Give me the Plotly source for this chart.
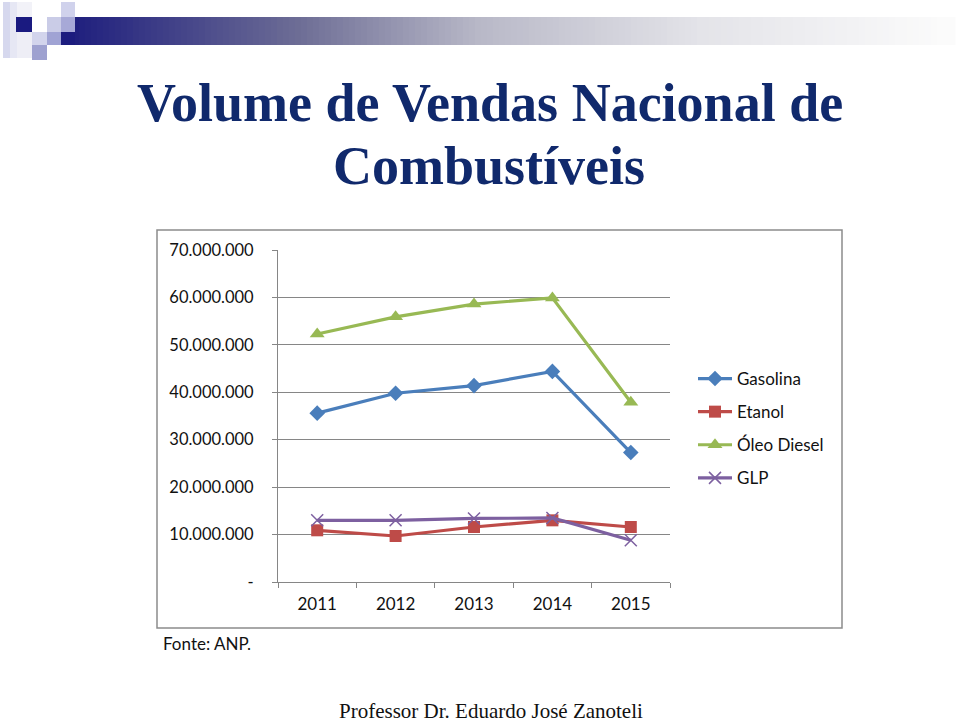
import plotly.graph_objects as go

# ---- data ----
years = ["2011", "2012", "2013", "2014", "2015"]
gasolina = [35.6e6, 39.8e6, 41.4e6, 44.4e6, 27.3e6]
etanol = [10.9e6, 9.7e6, 11.6e6, 13.0e6, 11.6e6]
oleo_diesel = [52.3e6, 55.9e6, 58.6e6, 59.9e6, 37.9e6]
glp = [13.0e6, 13.0e6, 13.4e6, 13.5e6, 8.8e6]
series_names = ["Gasolina", "Etanol", "Óleo Diesel", "GLP"]
y_tickvals = [0, 10e6, 20e6, 30e6, 40e6, 50e6, 60e6, 70e6]
y_ticktext = ["-", "10.000.000", "20.000.000", "30.000.000", "40.000.000",
              "50.000.000", "60.000.000", "70.000.000"]

W, H = 960, 725
L, R, T, B = 278, 670, 250, 582  # plot area in pixels


def px(x):
    return (x - L) / (R - L)


def py(y):
    return (B - y) / (B - T)


colors = ["#4A7EBB", "#BE4B48", "#98B954", "#7D60A0"]
symbols = ["diamond", "square", "triangle-up", "x-thin"]
sizes = [12, 12, 13, 12]

fig = go.Figure()
for i, (name, vals) in enumerate(zip(series_names, [gasolina, etanol, oleo_diesel, glp])):
    marker = dict(symbol=symbols[i], size=sizes[i], color=colors[i])
    if symbols[i] == "x-thin":
        marker["line"] = dict(color=colors[i], width=1.5)
    fig.add_trace(go.Scatter(
        x=years, y=vals, name=name, mode="lines+markers",
        line=dict(color=colors[i], width=3.2),
        marker=marker, legendgroup=name,
    ))

shapes = []
# chart frame
shapes.append(dict(type="rect", xref="paper", yref="paper",
                   x0=px(157), x1=px(842), y0=py(628), y1=py(230),
                   line=dict(color="#8C8C8C", width=1.5), layer="below"))

# decorative slide header (logo squares + gradient bar)
def rect(x0, y0, x1, y1, c):
    shapes.append(dict(type="rect", xref="paper", yref="paper",
                       x0=px(x0), x1=px(x1), y0=py(y1), y1=py(y0),
                       fillcolor=c, line=dict(width=0), layer="below"))

stops = [(61, (27, 27, 125)), (300, (110, 110, 150)), (480, (185, 185, 200)),
         (700, (228, 228, 233)), (950, (252, 252, 252))]
step = 6
x = 61
while x < 950:
    xm = x + step / 2
    for (a, ca), (b, cb) in zip(stops[:-1], stops[1:]):
        if a <= xm <= b:
            t = (xm - a) / (b - a)
            c = tuple(int(ca[k] + (cb[k] - ca[k]) * t) for k in range(3))
            break
    rect(x, 17, x + step + 0.5, 45, "rgb(%d,%d,%d)" % c)
    x += step

rect(3, 2, 10, 58, "#D6D8EE")
rect(10, 2, 17, 58, "#E6E7F4")
rect(17, 2, 32, 17, "#F2F2F8")
rect(17, 32, 32, 58, "#EEEEF6")
rect(16, 17, 32, 32, "#1A1A80")
rect(32, 32, 47, 45, "#D2D4EC")
rect(32, 45, 47, 60, "#9EA1D0")
rect(47, 17, 61, 32, "#CACCE7")
rect(47, 32, 61, 45, "#A0A3D4")
rect(61, 2, 75, 17, "#D0D2EC")
rect(61, 17, 75, 32, "#A7A9D7")
rect(61, 32, 75, 45, "#1C1C7E")

annotations = [
    dict(text="<b>Volume de Vendas Nacional de</b>", x=px(490), y=py(103),
         font=dict(family="Liberation Serif", size=54, color="#10296C")),
    dict(text="<b>Combustíveis</b>", x=px(489), y=py(166),
         font=dict(family="Liberation Serif", size=54, color="#10296C")),
    dict(text="Fonte: ANP.", x=px(161), y=py(643), xanchor="left",
         font=dict(family="Lato", size=17, color="#111111")),
    dict(text="Professor Dr. Eduardo José Zanoteli", x=px(491), y=py(711),
         font=dict(family="Liberation Serif", size=21, color="#111111")),
]
for a in annotations:
    a.update(xref="paper", yref="paper", showarrow=False)
    a.setdefault("xanchor", "center")
    a.setdefault("yanchor", "middle")

fig.update_layout(
    width=W, height=H,
    margin=dict(l=L, r=W - R, t=T, b=H - B, pad=0),
    paper_bgcolor="white", plot_bgcolor="white",
    font=dict(family="Lato", size=17, color="#111111"),
    shapes=shapes, annotations=annotations,
    showlegend=True,
    legend=dict(x=px(693), y=py(361), xanchor="left", yanchor="top",
                font=dict(family="Lato", size=17, color="#111111"),
                tracegroupgap=8, bgcolor="rgba(0,0,0,0)", itemwidth=34),
)
fig.update_xaxes(type="category", showgrid=False, showline=True,
                 linecolor="#868686", linewidth=1, ticks="outside",
                 tickson="boundaries", ticklen=5, tickcolor="#868686",
                 tickfont=dict(family="Lato", size=17, color="#111111"),
                 ticklabelstandoff=7, range=[-0.5, 4.5])
fig.update_yaxes(range=[0, 70e6], tickvals=y_tickvals, ticktext=y_ticktext,
                 showgrid=True, gridcolor="#868686", gridwidth=1,
                 showline=True, linecolor="#868686", linewidth=1,
                 ticks="outside", ticklen=5, tickcolor="#868686",
                 tickfont=dict(family="Lato", size=16.5, color="#111111"),
                 ticklabelstandoff=15, zeroline=False)

fig.write_html("out.html", config={"displayModeBar": False},
               post_script="document.body.style.margin='0';")
